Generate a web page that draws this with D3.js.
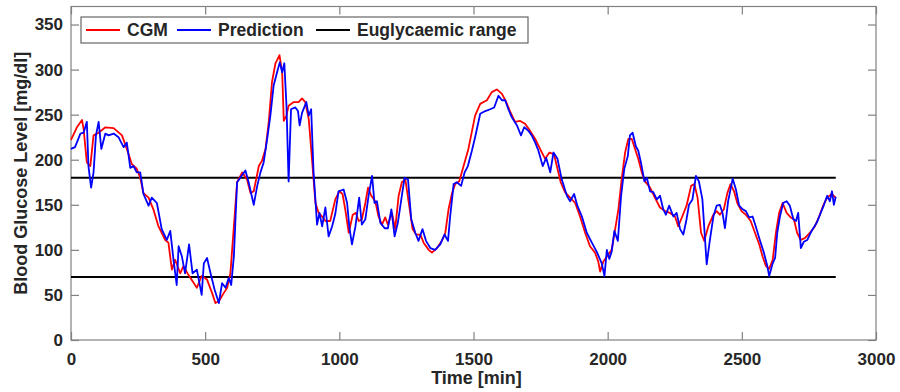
<!DOCTYPE html>
<html>
<head>
<meta charset="utf-8">
<script src="https://cdn.jsdelivr.net/npm/d3@7"></script>
<style>
  body { margin: 0; background: #fff; }
  svg text { font-family: Arial, "Liberation Sans", sans-serif; font-weight: bold; fill: #262626; }
</style>
</head>
<body>
<svg></svg>
<script>
// ---- data ----
const cgmTime = [0, 22, 41, 47, 59, 72, 84, 103, 128, 159, 190, 208, 227, 245, 258, 270, 289, 307, 326, 351,
  363, 376, 388, 407, 419, 438, 469, 487, 507, 526, 538, 551, 569, 582, 594, 607, 619, 638, 656, 669,
  681, 700, 712, 725, 737, 749, 762, 777, 787, 793, 803, 811, 830, 848, 861, 873, 886, 898, 911, 923,
  936, 948, 966, 985, 1000, 1012, 1022, 1035, 1050, 1062, 1072, 1084, 1097, 1107, 1119, 1134, 1146, 1159, 1171, 1181,
  1196, 1208, 1221, 1233, 1246, 1259, 1273, 1286, 1302, 1314, 1333, 1345, 1364, 1382, 1395, 1407, 1420, 1432, 1447, 1463,
  1481, 1506, 1525, 1550, 1568, 1587, 1606, 1622, 1637, 1655, 1674, 1692, 1711, 1730, 1748, 1767, 1783, 1800, 1813, 1825,
  1841, 1860, 1879, 1897, 1916, 1934, 1953, 1965, 1972, 1984, 2003, 2015, 2028, 2040, 2052, 2065, 2077, 2090, 2102, 2114,
  2127, 2139, 2158, 2176, 2195, 2214, 2232, 2251, 2263, 2278, 2294, 2311, 2323, 2335, 2348, 2360, 2375, 2394, 2406, 2418,
  2433, 2446, 2458, 2471, 2483, 2499, 2515, 2533, 2549, 2565, 2577, 2590, 2602, 2615, 2627, 2639, 2652, 2667, 2682, 2694,
  2706, 2719, 2735, 2754, 2772, 2788, 2803, 2818, 2835, 2849];
const cgmValue = [222, 236, 244, 234, 197, 193, 227, 230, 236, 235, 227, 212, 195, 190, 180, 163, 158, 145, 126, 111,
  108, 78, 89, 74, 82, 72, 58, 71, 67, 52, 41, 43, 52, 58, 74, 126, 175, 186, 178, 163,
  165, 193, 199, 212, 242, 286, 307, 316, 297, 243, 249, 260, 264, 264, 268, 264, 245, 201, 152, 141,
  137, 132, 132, 156, 165, 162, 145, 119, 139, 141, 132, 134, 152, 169, 160, 154, 137, 128, 136, 128,
  141, 123, 160, 175, 178, 152, 123, 117, 117, 108, 100, 97, 102, 110, 119, 145, 163, 173, 176, 193,
  212, 249, 262, 266, 275, 278, 273, 264, 253, 242, 243, 240, 232, 223, 212, 201, 208, 206, 190, 175,
  164, 158, 152, 137, 119, 104, 97, 87, 76, 87, 95, 100, 123, 145, 178, 208, 223, 223, 212, 201,
  186, 176, 169, 158, 147, 143, 141, 137, 126, 137, 149, 171, 173, 158, 119, 110, 126, 139, 143, 139,
  145, 163, 173, 165, 152, 143, 139, 132, 119, 106, 93, 82, 79, 89, 119, 141, 152, 141, 136, 134,
  119, 111, 113, 119, 126, 137, 149, 158, 162, 158];

const predTime = [0, 15, 35, 47, 59, 65, 75, 84, 93, 103, 113, 128, 140, 159, 177, 196, 208, 221, 233, 245,
  258, 270, 289, 301, 320, 338, 357, 370, 382, 394, 401, 413, 425, 440, 453, 469, 487, 495, 507, 520,
  535, 551, 563, 576, 588, 597, 607, 619, 631, 650, 662, 681, 694, 706, 718, 731, 743, 755, 768, 778,
  787, 795, 803, 811, 820, 836, 846, 852, 861, 877, 886, 895, 904, 917, 926, 936, 948, 960, 973, 985,
  997, 1016, 1029, 1037, 1047, 1060, 1074, 1084, 1097, 1109, 1122, 1131, 1140, 1153, 1169, 1181, 1194, 1206, 1218, 1231,
  1243, 1256, 1268, 1283, 1295, 1310, 1323, 1339, 1357, 1376, 1392, 1405, 1413, 1426, 1438, 1454, 1467, 1479, 1494, 1506,
  1525, 1544, 1562, 1577, 1593, 1606, 1618, 1630, 1643, 1662, 1677, 1689, 1705, 1717, 1730, 1742, 1758, 1771, 1786, 1798,
  1813, 1829, 1848, 1860, 1875, 1887, 1904, 1922, 1941, 1959, 1978, 1988, 1997, 2006, 2015, 2025, 2038, 2050, 2062, 2075,
  2083, 2093, 2105, 2114, 2124, 2137, 2146, 2158, 2170, 2183, 2195, 2207, 2217, 2229, 2245, 2257, 2270, 2282, 2294, 2303,
  2316, 2329, 2340, 2353, 2369, 2381, 2394, 2406, 2418, 2428, 2437, 2449, 2466, 2478, 2490, 2503, 2515, 2527, 2540, 2552,
  2567, 2582, 2595, 2602, 2615, 2624, 2632, 2642, 2654, 2667, 2679, 2692, 2702, 2710, 2720, 2731, 2744, 2760, 2779, 2794,
  2806, 2818, 2828, 2836, 2843, 2850];
const predValue = [212, 214, 229, 230, 242, 193, 169, 186, 227, 242, 212, 229, 227, 229, 225, 214, 219, 191, 193, 186,
  186, 162, 149, 158, 152, 123, 111, 121, 89, 61, 104, 93, 74, 106, 74, 78, 50, 85, 91, 74,
  56, 41, 63, 58, 69, 61, 93, 175, 180, 188, 175, 150, 171, 186, 197, 223, 249, 282, 297, 308,
  297, 307, 260, 176, 256, 258, 254, 238, 252, 264, 249, 256, 186, 128, 141, 126, 147, 115, 126, 140,
  165, 167, 152, 126, 106, 126, 158, 128, 134, 160, 182, 152, 154, 130, 124, 124, 145, 115, 130, 156,
  180, 178, 134, 119, 110, 123, 110, 102, 100, 106, 117, 110, 137, 173, 175, 171, 186, 193, 210, 225,
  251, 254, 256, 258, 271, 266, 266, 256, 247, 238, 227, 236, 232, 227, 219, 210, 193, 202, 186, 208,
  201, 178, 160, 154, 162, 149, 137, 119, 108, 98, 85, 71, 100, 90, 98, 121, 110, 160, 190, 204,
  227, 230, 215, 210, 197, 176, 180, 165, 164, 156, 160, 145, 139, 149, 137, 141, 123, 117, 134, 150,
  156, 182, 176, 156, 84, 111, 137, 149, 150, 141, 124, 154, 179, 167, 149, 145, 143, 136, 137, 126,
  111, 97, 82, 71, 85, 91, 119, 137, 152, 154, 149, 134, 132, 141, 102, 109, 111, 121, 130, 141,
  150, 160, 154, 165, 150, 159];

const rangeBounds = [70, 180];
const rangeSpan = [0, 2850];
const xTicks = [0, 500, 1000, 1500, 2000, 2500, 3000];
const yTicks = [0, 50, 100, 150, 200, 250, 300, 350];
const legendLabels = ['CGM', 'Prediction', 'Euglycaemic range'];

// ---- layout ----
const size = {w: 900, h: 392};
const margin = {t: 6.5, r: 24, b: 52, l: 71};
const axisGray = '#808080';

const svg = d3.select('svg')
    .attr('width', size.w)
    .attr('height', size.h);

const x = d3.scaleLinear()
    .domain([0, 3000])
    .range([margin.l, size.w - margin.r]);

const y = d3.scaleLinear()
    .domain([0, 370])
    .range([size.h - margin.b, margin.t]);

// axes box
svg.append('rect')
    .attr('x', x(0))
    .attr('y', y(370))
    .attr('width', x(3000) - x(0))
    .attr('height', y(0) - y(370))
    .attr('fill', 'none')
    .attr('stroke', axisGray)
    .attr('stroke-width', 1.2);

// bottom / left axes with inward ticks
svg.append('g')
    .attr('transform', 'translate(0,' + y(0) + ')')
    .call(d3.axisBottom(x).tickValues(xTicks).tickFormat(d3.format('d'))
        .tickSizeInner(-8).tickSizeOuter(0).tickPadding(13));

svg.append('g')
    .attr('transform', 'translate(' + x(0) + ',0)')
    .call(d3.axisLeft(y).tickValues(yTicks).tickFormat(d3.format('d'))
        .tickSizeInner(-8).tickSizeOuter(0).tickPadding(8));

// mirrored ticks on top and right
svg.append('g')
    .attr('transform', 'translate(0,' + y(370) + ')')
    .call(d3.axisTop(x).tickValues(xTicks).tickSizeInner(-8).tickSizeOuter(0).tickFormat(''));

svg.append('g')
    .attr('transform', 'translate(' + x(3000) + ',0)')
    .call(d3.axisRight(y).tickValues(yTicks).tickSizeInner(-8).tickSizeOuter(0).tickFormat(''));

svg.selectAll('.domain').attr('stroke', 'none');
svg.selectAll('.tick line').attr('stroke', axisGray).attr('stroke-width', 1.2);
svg.selectAll('.tick text')
    .attr('font-size', 17)
    .style('font-family', 'Arial, "Liberation Sans", sans-serif')
    .style('font-weight', 'bold')
    .attr('fill', '#262626');

// euglycaemic range lines
svg.append('g').selectAll('line')
    .data(rangeBounds)
    .join('line')
    .attr('x1', x(rangeSpan[0]))
    .attr('x2', x(rangeSpan[1]))
    .attr('y1', d => y(d))
    .attr('y2', d => y(d))
    .attr('stroke', '#000')
    .attr('stroke-width', 2);

// series lines
const line = d3.line()
    .x(d => x(d[0]))
    .y(d => y(d[1]));

const cgm = d3.zip(cgmTime, cgmValue);
const pred = d3.zip(predTime, predValue);

svg.append('path')
    .datum(cgm)
    .attr('d', line)
    .attr('fill', 'none')
    .attr('stroke', '#ff0000')
    .attr('stroke-width', 1.8)
    .attr('stroke-linejoin', 'round');

svg.append('path')
    .datum(pred)
    .attr('d', line)
    .attr('fill', 'none')
    .attr('stroke', '#0000ff')
    .attr('stroke-width', 1.8)
    .attr('stroke-linejoin', 'round');

// axis titles
svg.append('text')
    .attr('x', (x(0) + x(3000)) / 2 + 3)
    .attr('y', 384)
    .attr('text-anchor', 'middle')
    .attr('font-size', 18)
    .text('Time [min]');

svg.append('text')
    .attr('transform', 'translate(27,' + ((y(0) + y(370)) / 2) + ') rotate(-90)')
    .attr('text-anchor', 'middle')
    .attr('font-size', 18)
    .text('Blood Glucose Level [mg/dl]');

// legend
const legendG = svg.append('g');
legendG.append('rect')
    .attr('x', 81)
    .attr('y', 17)
    .attr('width', 447)
    .attr('height', 26)
    .attr('fill', '#fff')
    .attr('stroke', '#666')
    .attr('stroke-width', 1.2);

const legendColors = ['#ff0000', '#0000ff', '#000'];
const legendX = [86, 177, 316];
legendLabels.forEach((label, i) => {
    legendG.append('line')
        .attr('x1', legendX[i])
        .attr('x2', legendX[i] + 34)
        .attr('y1', 30)
        .attr('y2', 30)
        .attr('stroke', legendColors[i])
        .attr('stroke-width', 1.8);
    legendG.append('text')
        .attr('x', legendX[i] + 41)
        .attr('y', 36)
        .attr('font-size', 17.5)
        .text(label);
});
</script>
</body>
</html>
